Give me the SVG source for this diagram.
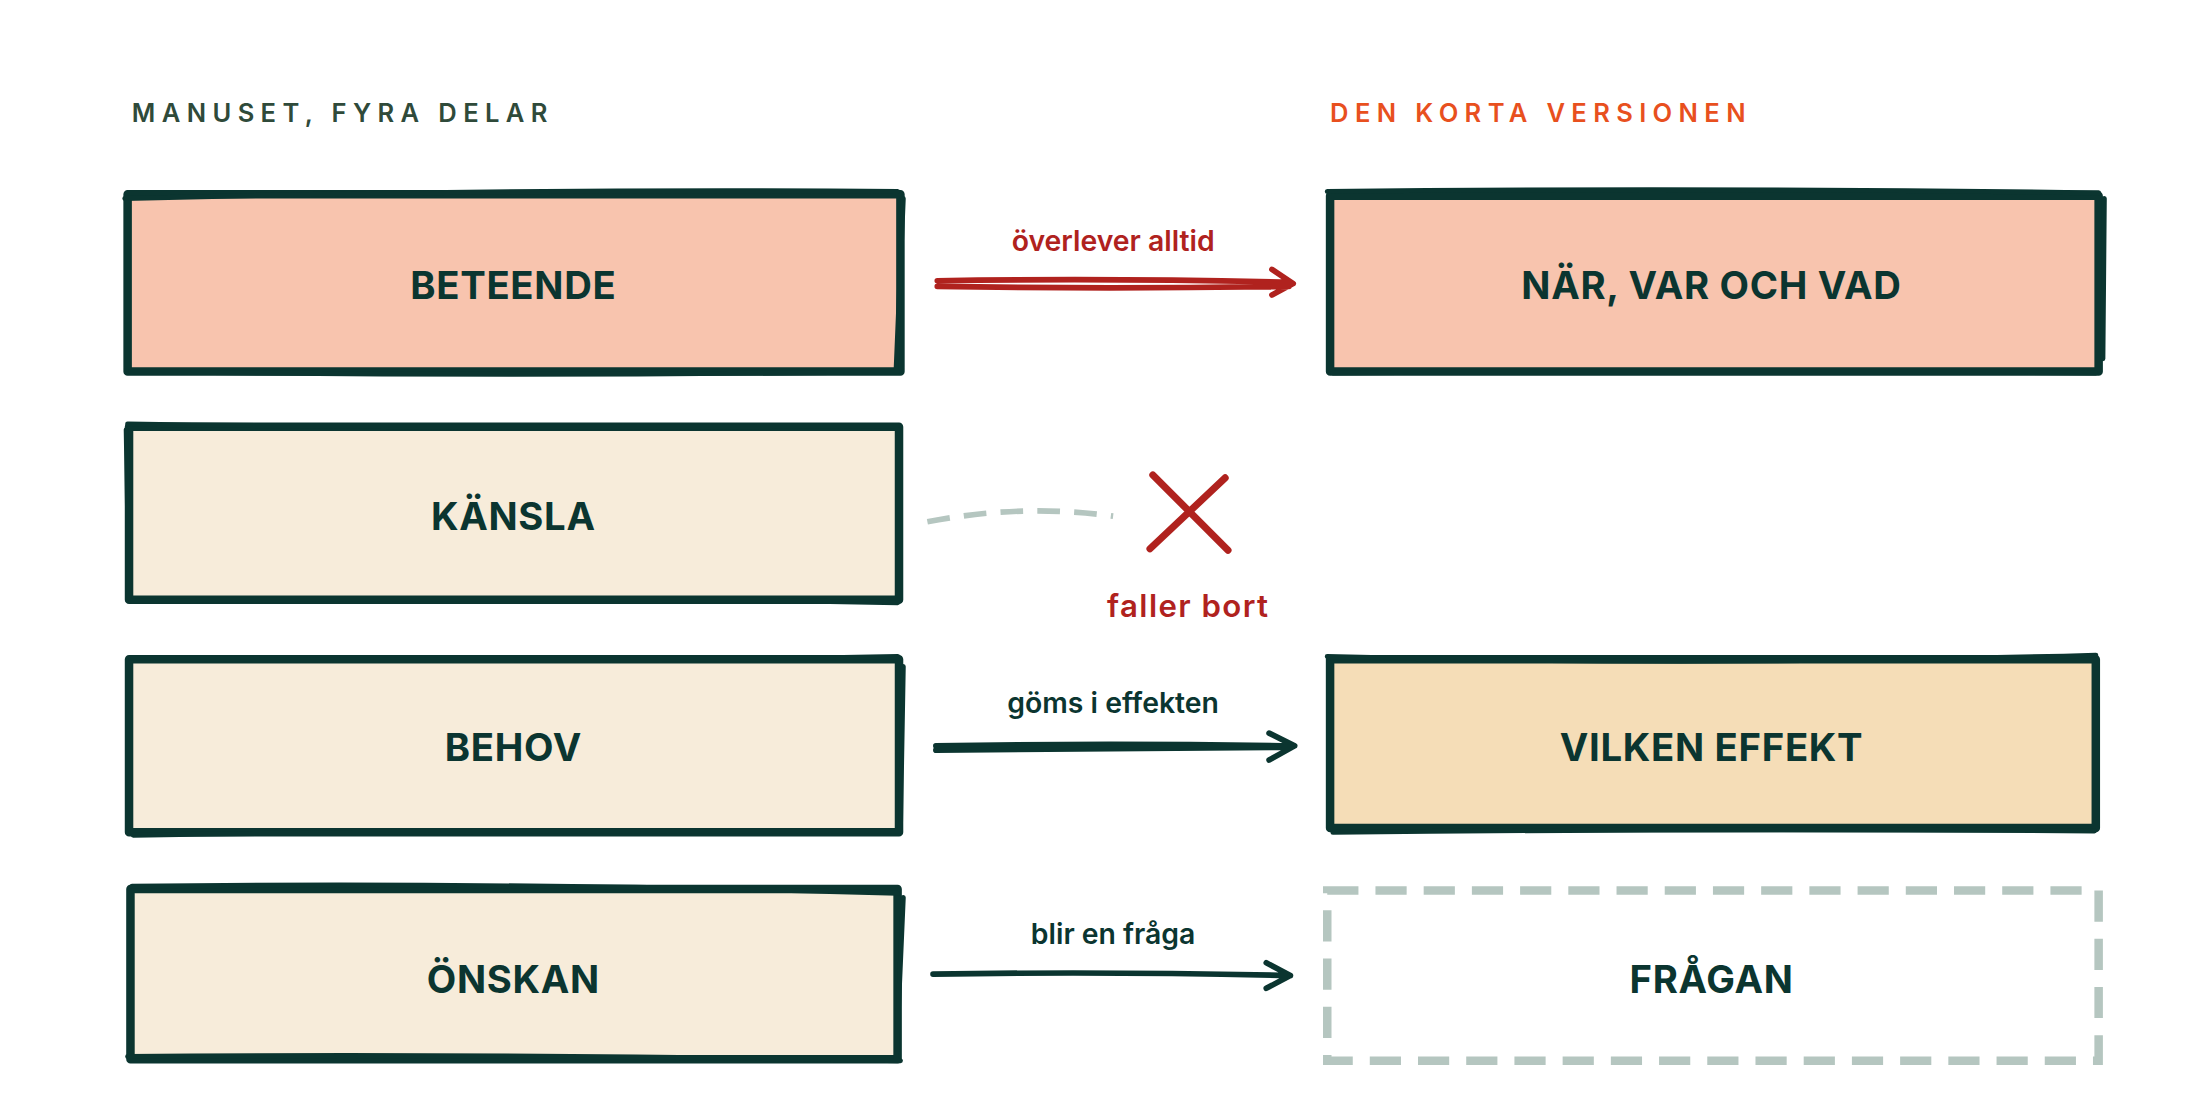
<svg xmlns="http://www.w3.org/2000/svg" width="2212" height="1116" viewBox="0 0 2212 1116">
<style>
.box{stroke:#0b3530;stroke-width:6;stroke-linejoin:round}
.sk{fill:none;stroke:#0b3530;stroke-width:3.5;stroke-linecap:round}
.lbl{font-family:"Inter","Liberation Sans",sans-serif;font-weight:700;font-size:27px;fill:#0b3530;text-anchor:middle;letter-spacing:0.5px}
.hd{font-family:"Inter","Liberation Sans",sans-serif;font-weight:600;font-size:18px;letter-spacing:4.5px}
.el{font-family:"Inter","Liberation Sans",sans-serif;font-weight:600;font-size:20px;text-anchor:middle}
.arr{fill:none;stroke:#0b3530;stroke-width:4;stroke-linecap:round;stroke-linejoin:round}
.red{stroke:#b0221e}
</style>
<rect width="2212" height="1116" fill="#ffffff"/>
<g transform="scale(1.418)">
<text class="hd" x="93" y="86" fill="#2f4a3a">MANUSET, FYRA DELAR</text>
<text class="hd" x="938" y="86" fill="#e8501e">DEN KORTA VERSIONEN</text>

<g id="n-beteende">
<rect class="box" x="90" y="137" width="545" height="125" fill="#f8c4ae"/>
<path class="sk" d="M88 140 Q360 133 633 135 M92 262 Q360 266 633 262 M637 140 L632 260"/>
<text class="lbl" x="362" y="211">BETEENDE</text>
</g>
<g id="n-kansla">
<rect class="box" x="91" y="301" width="543" height="122" fill="#f7ecda"/>
<path class="sk" d="M90 299 Q360 303 633 300 M92 424 Q360 420 633 425 M89 303 L91 422"/>
<text class="lbl" x="362" y="374">KÄNSLA</text>
</g>
<g id="n-behov">
<rect class="box" x="91" y="465" width="543" height="122" fill="#f7ecda"/>
<path class="sk" d="M92 464 Q360 468 633 463 M94 589 Q360 585 635 586 M637 470 L635 584"/>
<text class="lbl" x="362" y="537">BEHOV</text>
</g>
<g id="n-onskan">
<rect class="box" x="92" y="627" width="541" height="120" fill="#f7ecda"/>
<path class="sk" d="M93 625 Q360 622 633 630 M90 745 Q360 743 635 748 M637 633 L632 748"/>
<text class="lbl" x="362" y="700">ÖNSKAN</text>
</g>
<g id="n-nar">
<rect class="box" x="938" y="138" width="542" height="124" fill="#f8c4ae"/>
<path class="sk" d="M936 135 Q1200 132 1480 136 M940 263 Q1200 261 1478 263 M1484 140 L1483 253"/>
<text class="lbl" x="1207" y="211">NÄR, VAR OCH VAD</text>
</g>
<g id="n-vilken">
<rect class="box" x="938" y="465" width="540" height="119" fill="#f5ddb7"/>
<path class="sk" d="M936 463 Q1200 470 1478 462 M940 587 Q1200 584 1477 586"/>
<text class="lbl" x="1207" y="537">VILKEN EFFEKT</text>
</g>
<g id="n-fragan">
<rect x="936" y="628" width="544" height="120" fill="none" stroke="#b5c6c0" stroke-width="6" stroke-dasharray="22 12"/>
<text class="lbl" x="1207" y="700">FRÅGAN</text>
</g>

<g id="connectors">
<path class="arr red" d="M661 198 Q780 196 910 199 M661 202 Q780 204 909 202 M897 190 L912 200 L897 208"/>
<path d="M654 368 Q720 355 785 364" fill="none" stroke="#b5c6c0" stroke-width="4" stroke-dasharray="16 10"/>
<path d="M813 335 L866 388 M864 337 L811 387" fill="none" stroke="#b0221e" stroke-width="5" stroke-linecap="round"/>
<path class="arr" d="M660 526 Q780 524 912 526 M660 529 Q780 528 910 527 M895 517 L913 526 L895 536"/>
<path class="arr" d="M658 687 Q780 685 910 688 M893 679 L910 688 L893 697"/>
</g>
<text class="el" x="785" y="177" fill="#b0221e">överlever alltid</text>
<text class="el" x="838" y="435" fill="#b0221e" style="font-size:22px;letter-spacing:1px">faller bort</text>
<text class="el" x="785" y="503" fill="#0b3530">göms i effekten</text>
<text class="el" x="785" y="666" fill="#0b3530">blir en fråga</text>
</g>
</svg>
